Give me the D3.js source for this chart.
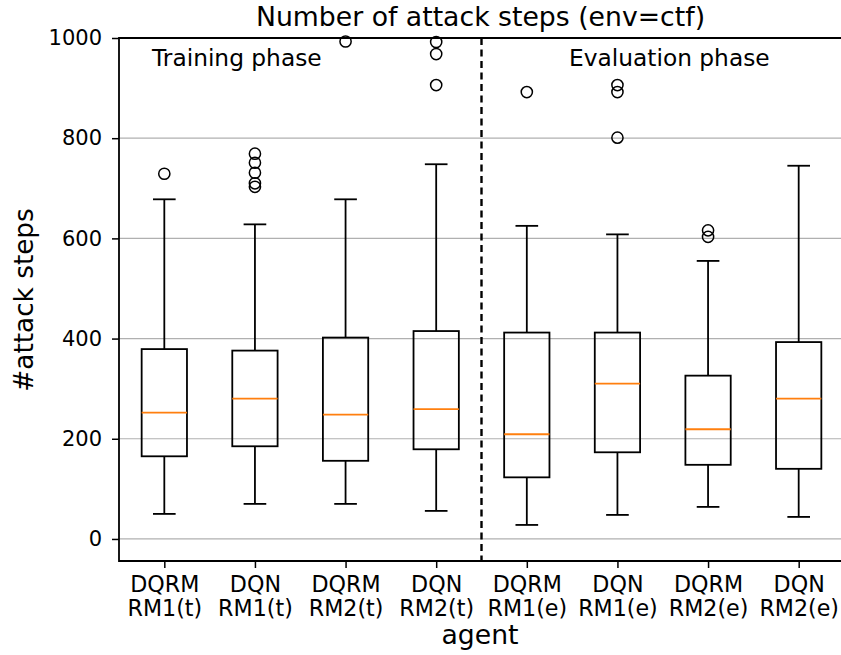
<!DOCTYPE html>
<html><head><meta charset="utf-8">
<script src="https://cdn.jsdelivr.net/npm/d3@7"></script>
<style>body{margin:0;background:#fff;} text{font-family:"DejaVu Sans",sans-serif;}</style>
</head><body>
<svg id="c" width="841" height="655"></svg>
<script>
const agents = ["DQRM\nRM1(t)","DQN\nRM1(t)","DQRM\nRM2(t)","DQN\nRM2(t)","DQRM\nRM1(e)","DQN\nRM1(e)","DQRM\nRM2(e)","DQN\nRM2(e)"];
const whiskerLow  = [50, 70, 70, 56, 28, 48, 64, 44];
const q1          = [165, 185, 156, 179, 123, 173, 148, 140];
const median      = [252, 280, 248, 259, 209, 310, 219, 280];
const q3          = [379, 376, 402, 415, 412, 412, 326, 393];
const whiskerHigh = [678, 628, 678, 748, 625, 608, 555, 745];
const outliers    = [[729],[769,751,731,710,703],[993],[992,968,906],[892],[906,892,801],[616,603],[]];
const yTicks = [0,200,400,600,800,1000];

const svg = d3.select("#c");
const L=119, R=844, T=38, B=561;
const x = d3.scaleLinear().domain([0.5,8.5]).range([L,R]);
const y = d3.scaleLinear().domain([-44,1000]).range([B,T]);
const bw = x(1.25)-x(1);
const SW = 1.8;

// grid
svg.append("g").selectAll("line").data(yTicks).join("line")
  .attr("x1",L).attr("x2",R).attr("y1",d=>y(d)).attr("y2",d=>y(d))
  .attr("stroke","#b0b0b0").attr("stroke-width",1.2);

const plot = svg.append("g");
agents.forEach((a,i)=>{
  const cx = x(i+1);
  const g = plot.append("g");
  g.append("line").attr("x1",cx).attr("x2",cx).attr("y1",y(whiskerLow[i])).attr("y2",y(q1[i])).attr("stroke","#000").attr("stroke-width",SW);
  g.append("line").attr("x1",cx).attr("x2",cx).attr("y1",y(q3[i])).attr("y2",y(whiskerHigh[i])).attr("stroke","#000").attr("stroke-width",SW);
  g.append("line").attr("x1",cx-bw/2).attr("x2",cx+bw/2).attr("y1",y(whiskerLow[i])).attr("y2",y(whiskerLow[i])).attr("stroke","#000").attr("stroke-width",SW);
  g.append("line").attr("x1",cx-bw/2).attr("x2",cx+bw/2).attr("y1",y(whiskerHigh[i])).attr("y2",y(whiskerHigh[i])).attr("stroke","#000").attr("stroke-width",SW);
  g.append("rect").attr("x",cx-bw).attr("width",2*bw).attr("y",y(q3[i])).attr("height",y(q1[i])-y(q3[i]))
    .attr("fill","none").attr("stroke","#000").attr("stroke-width",SW);
  g.append("line").attr("x1",cx-bw).attr("x2",cx+bw).attr("y1",y(median[i])).attr("y2",y(median[i])).attr("stroke","#ff7f0e").attr("stroke-width",SW);
  g.selectAll("circle").data(outliers[i]).join("circle").attr("cx",cx).attr("cy",d=>y(d)).attr("r",5.6)
    .attr("fill","none").attr("stroke","#000").attr("stroke-width",1.5);
});

// divider
svg.append("line").attr("x1",x(4.5)).attr("x2",x(4.5)).attr("y1",T).attr("y2",B)
  .attr("stroke","#000").attr("stroke-width",2.4).attr("stroke-dasharray","7,4.5");

// spines
svg.append("line").attr("x1",L).attr("x2",R).attr("y1",T).attr("y2",T).attr("stroke","#000").attr("stroke-width",1.8);
svg.append("line").attr("x1",L).attr("x2",R).attr("y1",B).attr("y2",B).attr("stroke","#000").attr("stroke-width",1.8);
svg.append("line").attr("x1",L).attr("x2",L).attr("y1",T-0.9).attr("y2",B+0.9).attr("stroke","#000").attr("stroke-width",1.8);

// y axis
const ya = svg.append("g").attr("transform",`translate(${L},0)`)
  .call(d3.axisLeft(y).tickValues(yTicks).tickSize(7).tickPadding(10).tickFormat(d3.format("d")));
ya.select(".domain").remove();
ya.selectAll(".tick line").attr("stroke-width",1.5);
ya.selectAll("text").attr("font-size",21).attr("font-family","DejaVu Sans").attr("fill","#000");

// x axis
const xa = svg.append("g").attr("transform",`translate(0,${B})`)
  .call(d3.axisBottom(x).tickValues(d3.range(1,9)).tickSize(7).tickFormat(""));
xa.select(".domain").remove();
xa.selectAll(".tick line").attr("stroke-width",1.5);
xa.selectAll(".tick").each(function(d){
  const lines = agents[d-1].split("\n");
  const t = d3.select(this).append("text").attr("fill","#000").attr("font-size",22.2)
    .attr("text-anchor","middle").attr("font-family","DejaVu Sans");
  lines.forEach((s,k)=>t.append("tspan").attr("x",0).attr("y",31+k*24).text(s));
});

// labels
svg.append("text").attr("x",480.5).attr("y",26).attr("text-anchor","middle").attr("font-size",26.7).text("Number of attack steps (env=ctf)");
svg.append("text").attr("transform","translate(33,300) rotate(-90)").attr("text-anchor","middle").attr("font-size",26.3).text("#attack steps");
svg.append("text").attr("x",480).attr("y",644).attr("text-anchor","middle").attr("font-size",26.7).text("agent");
svg.append("text").attr("x",152).attr("y",65.7).attr("font-size",23.3).text("Training phase");
svg.append("text").attr("x",569).attr("y",65.7).attr("font-size",23.3).text("Evaluation phase");
</script>
</body></html>
